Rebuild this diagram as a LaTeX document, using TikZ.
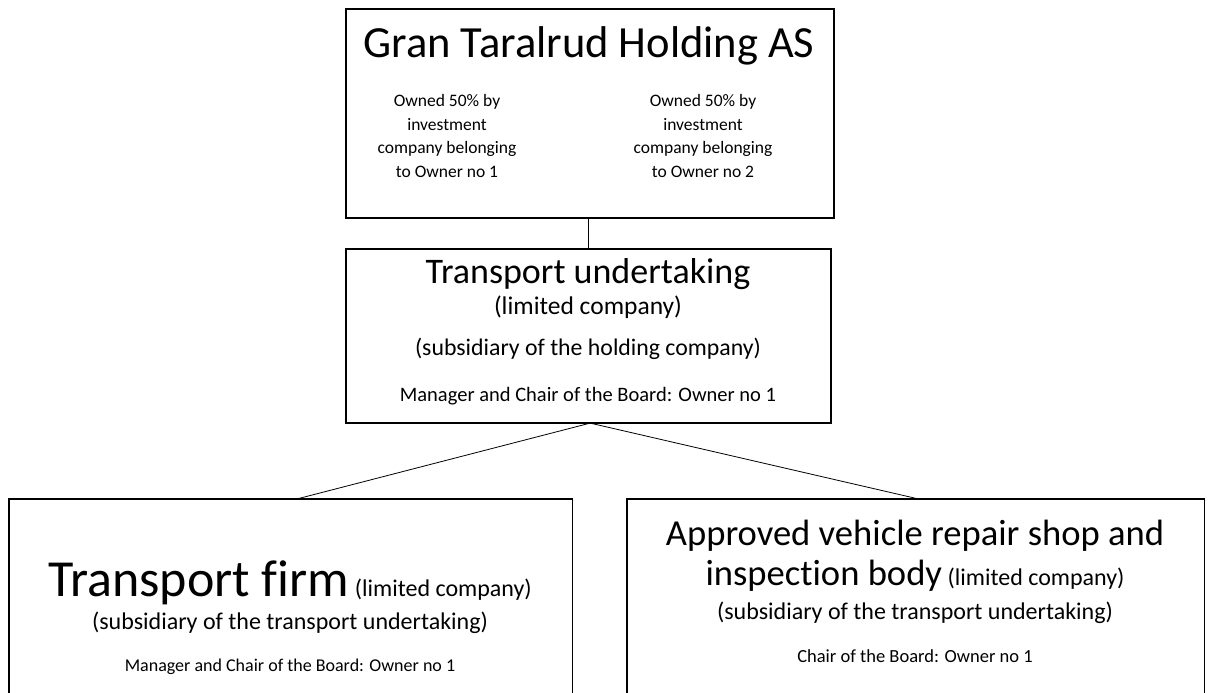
\documentclass[tikz,border=0pt]{standalone}
\usepackage{fontspec}
\setmainfont{Carlito}[Ligatures=NoCommon]
\newcommand{\fsz}[1]{\fontsize{#1}{#1}\selectfont}
\tikzset{
  box/.style={draw=black, line width=1.6pt, inner sep=0pt},
  openbox/.style={inner sep=0pt},
  link/.style={draw=black, line width=0.8pt},
  txt/.style={anchor=base, inner sep=0pt, align=center},
}
\begin{document}
\begin{tikzpicture}[x=1pt,y=-1pt]
\clip (0,0) rectangle (1211,693);
\fill[white] (0,0) rectangle (1211,693);
% boxes
\node[box, anchor=north west, minimum width=488pt, minimum height=209pt] (hold) at (345,8) {};
\node[box, anchor=north west, minimum width=485pt, minimum height=174pt] (under) at (345,248) {};
\node[openbox, anchor=north west, minimum width=563pt, minimum height=230pt] (firm) at (9,499) {};
\node[openbox, anchor=north west, minimum width=577pt, minimum height=230pt] (repair) at (627,499) {};
\draw[line width=1.6pt] (firm.south west) -- (firm.north west) -- (firm.north east) -- (firm.south east);
\draw[line width=1.6pt] (repair.south west) -- (repair.north west) -- (repair.north east) -- (repair.south east);
% connectors
\coordinate (fa) at ([xshift=6pt]firm.north);
\coordinate (ra) at ([xshift=3pt]repair.north);
\draw[link] (hold.south -| 588,0) -- (under.north -| 588,0);
\draw[link] (under.south) -- (fa);
\draw[link] ([xshift=4pt]under.south) -- (ra);
% top box text
\node[txt] (t1) at (589,58) {\fsz{44.5}Gran Taralrud Holding AS};
\node[txt, font=\fontsize{17.5}{23.5}\selectfont] (t2) at (447,177) {Owned 50\% by\\investment\\company belonging\\to Owner no 1};
\node[txt, font=\fontsize{17.5}{23.5}\selectfont] (t3) at (703,177) {Owned 50\% by\\investment\\company belonging\\to Owner no 2};
% middle box text
\node[txt] (u1) at (588,283) {\fsz{36}Transport undertaking};
\node[txt] (u2) at (588,314) {\fsz{25.5}(limited company)};
\node[txt] (u3) at (588,355) {\fsz{23.8}(subsidiary of the holding company)};
\node[txt] (u4) at (588,401) {\fsz{20.5}Manager and Chair of the Board: Owner no 1};
% left box text
\node[txt] (f1) at (290,596) {\fsz{52}Transport firm\fsz{24} (limited company)};
\node[txt] (f2) at (290,629) {\fsz{24}(subsidiary of the transport undertaking)};
\node[txt] (f3) at (290,671) {\fsz{18}Manager and Chair of the Board: Owner no 1};
% right box text
\node[txt] (r1) at (915,545) {\fsz{36.6}Approved vehicle repair shop and};
\node[txt] (r2) at (915,585) {\fsz{36.6}inspection body\fsz{24} (limited company)};
\node[txt] (r3) at (915,619) {\fsz{24}(subsidiary of the transport undertaking)};
\node[txt] (r4) at (915,662) {\fsz{18.5}Chair of the Board: Owner no 1};
\end{tikzpicture}
\end{document}
